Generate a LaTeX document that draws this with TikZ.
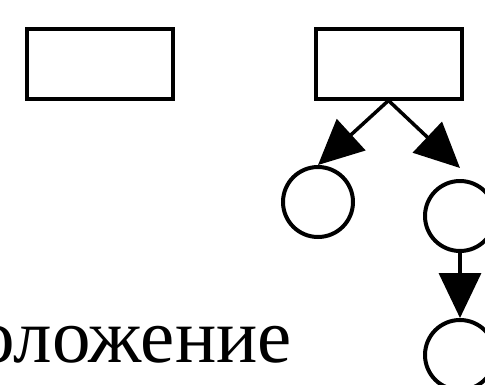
\documentclass[tikz,border=0pt]{standalone}
\usepackage{fontspec}
\setmainfont{Liberation Serif}
\usepackage{tikz}
\usetikzlibrary{arrows.meta}

\begin{document}
\begin{tikzpicture}[x=1pt, y=-1pt,
		box/.style = {draw, line width = 4pt, minimum width = 146pt, minimum height = 70pt, inner sep = 0pt},
		leaf/.style = {draw, circle, line width = 4pt, minimum size = 70pt, inner sep = 0pt},
		arr/.style = {line width = 3.5pt, -{Triangle[length = 45pt, width = 42pt]}}
		]
		\useasboundingbox (0,0) rectangle (485,384);
		\clip (0,0) rectangle (485,384);

		\node[box] (lb) at (100,63.5) {};
		\node[box] (rb) at (388.5,63.5) {};

		\node[leaf] (cl) at (318,202) {};
		\node[leaf] (cr) at (460,216) {};
		\node[leaf] (cb) at (460,355) {};
		\coordinate (crtip) at (460,168);

		\draw [arr] (rb.south) -- (cl.north);
		\draw [arr] (rb.south) -- (crtip);
		\draw [arr] (cr.south) -- (cb.north);

		\node[anchor = base west, inner sep = 0pt, font = \fontsize{77}{80}\selectfont] (word) at (-24,362) {оложение};
\end{tikzpicture}
\end{document}
